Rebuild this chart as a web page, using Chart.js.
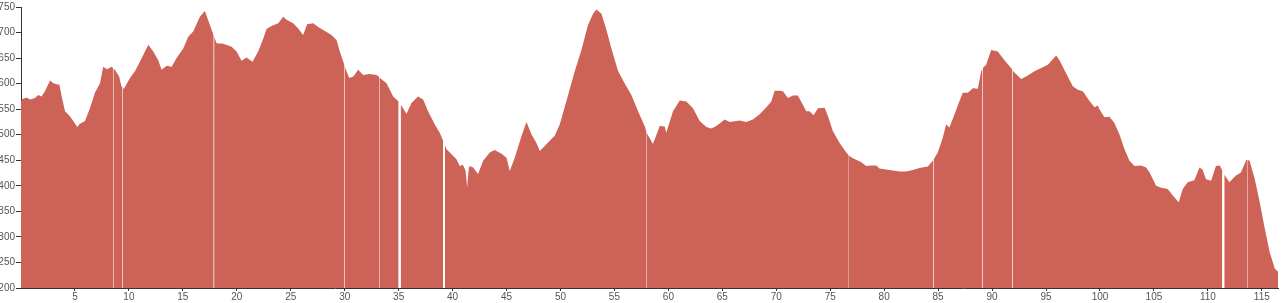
<!DOCTYPE html>
<html>
<head>
<meta charset="utf-8">
<script src="https://cdn.jsdelivr.net/npm/chart.js@4"></script>
<style>
  html, body { margin: 0; padding: 0; background: #fff; }
  #wrap { width: 1282px; height: 303px; position: relative; }
</style>
</head>
<body>
<div id="wrap"><canvas id="profileChart"></canvas></div>
<script>
// distance along the route (km) and elevation (m); null = missing reading
const distKm = [
  0, 0.06, 0.5, 0.84, 1.3, 1.6, 1.9, 2.22, 2.69, 3.0, 3.3, 3.56, 3.77, 4.08, 4.54, 5.22, 5.43, 5.93,
  6.39, 6.85, 7.32, 7.62, 7.97, 8.4, 8.542, 8.55, 8.558, 8.7, 9.1, 9.3, 9.412, 9.42, 9.428, 9.54,
  10.1, 10.56, 11.02, 11.8, 12.26, 12.72, 13.03, 13.5, 13.96, 14.42, 15.04, 15.5, 15.96, 16.43, 16.58,
  17.04, 17.35, 17.86, 17.88, 17.9, 18.13, 18.75, 19.52, 19.98, 20.44, 20.9, 21.46, 21.98, 22.45,
  22.76, 23.22, 23.84, 24.3, 24.61, 25.23, 25.69, 26.15, 26.52, 27.08, 27.54, 28.16, 28.78, 29.25,
  29.55, 29.992, 30.0, 30.008, 30.42, 30.8, 31.25, 31.71, 32.3, 32.95, 33.192, 33.2, 33.208, 33.88,
  34.49, 34.95, 35.0, 35.1, 35.19, 35.27, 35.73, 36.19, 36.8, 37.27, 37.73, 38.35, 38.81, 39.12,
  39.2, 39.28, 39.43, 39.9, 40.36, 40.66, 40.95, 41.2, 41.35, 41.5, 41.6, 41.9, 42.36, 42.83, 43.45,
  43.9, 44.53, 45.0, 45.3, 45.76, 46.38, 46.85, 47.31, 47.77, 48.08, 48.54, 49.0, 49.47, 49.93,
  50.55, 51.32, 51.94, 52.55, 53.02, 53.33, 53.8, 54.26, 54.72, 55.34, 56.1, 56.57, 57.19, 57.8,
  57.992, 58.0, 58.008, 58.57, 59.2, 59.66, 59.8, 60.43, 61.05, 61.67, 62.28, 62.9, 63.52, 63.98,
  64.45, 65.22, 65.68, 66.6, 67.2, 67.84, 68.46, 69.08, 69.54, 69.85, 70.31, 70.62, 71.08, 71.54,
  72.0, 72.3, 72.78, 73.08, 73.46, 73.86, 74.48, 74.79, 75.25, 75.87, 76.49, 76.722, 76.73, 76.738,
  77.1, 77.88, 78.34, 78.8, 79.27, 79.57, 80.5, 81.43, 82.0, 82.65, 83.27, 84.05, 84.5, 84.572,
  84.58, 84.588, 84.97, 85.43, 85.74, 86.05, 86.52, 86.98, 87.29, 87.75, 88.22, 88.68, 88.99, 89.12,
  89.14, 89.16, 89.45, 89.92, 90.53, 91.15, 91.77, 91.85, 91.87, 91.89, 92.17, 92.69, 93.16, 93.93,
  94.7, 95.17, 95.94, 96.25, 96.87, 97.48, 97.95, 98.41, 99.03, 99.5, 99.8, 99.95, 100.42, 100.88,
  101.34, 101.8, 102.27, 102.73, 103.2, 103.8, 104.28, 104.6, 105.2, 105.67, 106.28, 106.75, 107.3,
  107.67, 108.13, 108.75, 109.22, 109.5, 109.83, 110.3, 110.75, 111.1, 111.34, 111.43, 111.52,
  111.99, 112.6, 113.06, 113.55, 113.628, 113.64, 113.652, 113.86, 114.32, 114.78, 115.25, 115.72,
  116.2, 116.5
];

const elevation = [
  567, 569, 573, 569, 572, 578, 575, 585, 606, 601, 599, 598, 575, 546, 536, 515, 521, 527,
  552, 582, 601, 633, 628, 633, 630, null, 629, 627, 614, 595, 593, null, 591, 590,
  611, 624, 643, 676, 663, 646, 627, 635, 633, 650, 669, 692, 702, 724, 731,
  742, 724, 694, null, 692, 679, 678, 672, 663, 645, 651, 643, 663, 688,
  707, 713, 718, 731, 725, 718, 708, 695, 716, 718, 711, 703, 695, 685,
  663, 635, null, 633, 611, 614, 627, 617, 619, 617, 613, null, 612, 601,
  575, 566, 564, null, 558, 556, 541, 562, 575, 569, 546, 520, 504, 488,
  null, 480, 472, 462, 452, 439, 441, 430, 397, 435, 439, 436, 423, 449, 465,
  470, 463, 455, 429, 455, 497, 525, 501, 484, 468, 478, 488, 498, 520,
  566, 624, 666, 715, 737, 745, 737, 705, 669, 624, 595, 578, 546, 517,
  504, null, 503, 482, 517, 516, 504, 546, 567, 565, 552, 527, 515, 512,
  517, 530, 525, 528, 525, 530, 540, 554, 565, 586, 586, 585, 572, 577,
  577, 565, 546, 546, 538, 552, 553, 536, 507, 484, 465, 460, null, 459,
  454, 446, 439, 440, 440, 434, 431, 428, 428, 431, 435, 438, 449, 451,
  null, 452, 465, 494, 520, 514, 540, 566, 582, 582, 591, 590, 624, 629,
  null, 631, 637, 666, 663, 646, 630, 628, null, 626, 620, 609, 614, 624,
  632, 637, 655, 646, 620, 595, 588, 585, 566, 554, 557, 550, 534, 535,
  523, 501, 472, 449, 439, 440, 436, 426, 400, 396, 394, 381, 368,
  394, 407, 411, 436, 432, 413, 410, 439, 440, 430, null, 422,
  407, 420, 426, 450, 451, null, 451, 449, 416, 371, 319, 271,
  238, 232
];

const distTicks = [5, 10, 15, 20, 25, 30, 35, 40, 45, 50, 55, 60, 65, 70, 75, 80, 85, 90, 95, 100, 105, 110, 115];

const points = distKm.map((d, i) => ({ x: d, y: elevation[i] }));

const axisColor = '#333';
const tickFont = { family: 'Liberation Sans, Arial, sans-serif', size: 10 };

new Chart(document.getElementById('profileChart').getContext('2d'), {
  type: 'line',
  data: {
    datasets: [{
      label: 'Elevation',
      data: points,
      backgroundColor: '#cd6257',
      borderWidth: 0,
      pointRadius: 0,
      fill: 'start',
      spanGaps: false,
      tension: 0
    }]
  },
  options: {
    responsive: true,
    maintainAspectRatio: false,
    animation: false,
    layout: { padding: { top: 5, right: 4, left: 0, bottom: 0 } },
    plugins: { legend: { display: false }, tooltip: { enabled: false } },
    scales: {
      x: {
        type: 'linear',
        min: 0,
        max: 116.5,
        afterFit: s => { s.height = 15; },
        afterBuildTicks: s => { s.ticks = distTicks.map(v => ({ value: v })); },
        grid: { drawOnChartArea: false, tickLength: 3, color: axisColor },
        border: { color: axisColor, width: 1 },
        ticks: { autoSkip: false, maxRotation: 0, padding: 0, color: '#555', font: tickFont }
      },
      y: {
        min: 200,
        max: 750,
        afterFit: s => { s.width = 21; },
        grid: { drawOnChartArea: false, tickLength: 5, color: axisColor },
        border: { color: axisColor, width: 1 },
        ticks: { stepSize: 50, padding: 1, color: '#555', font: tickFont }
      }
    }
  }
});
</script>
</body>
</html>
